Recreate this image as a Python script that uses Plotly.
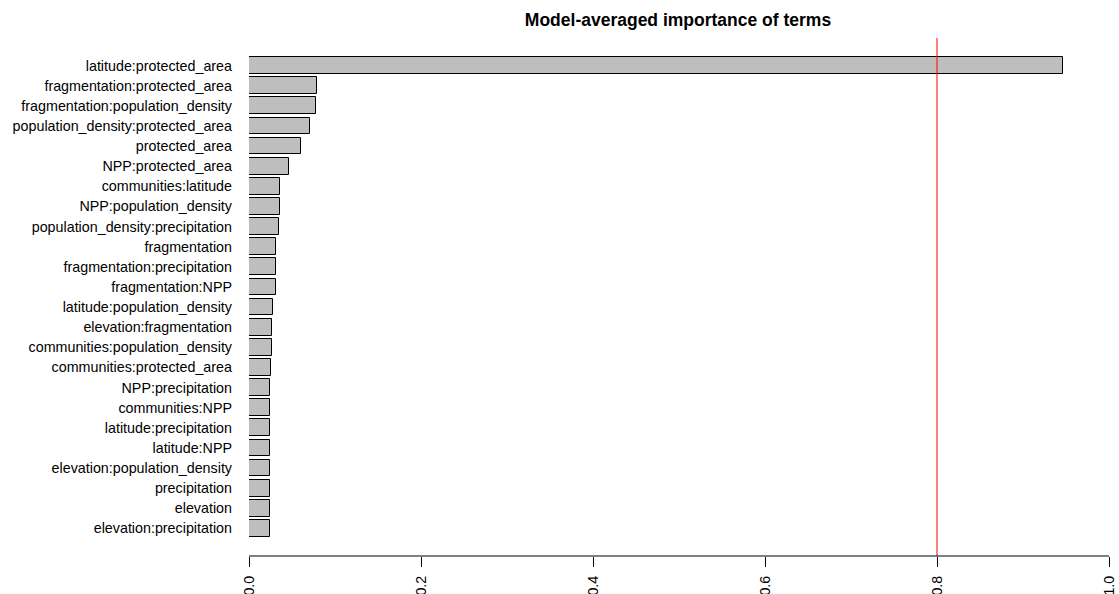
import plotly.graph_objects as go

terms = [
    "latitude:protected_area",
    "fragmentation:protected_area",
    "fragmentation:population_density",
    "population_density:protected_area",
    "protected_area",
    "NPP:protected_area",
    "communities:latitude",
    "NPP:population_density",
    "population_density:precipitation",
    "fragmentation",
    "fragmentation:precipitation",
    "fragmentation:NPP",
    "latitude:population_density",
    "elevation:fragmentation",
    "communities:population_density",
    "communities:protected_area",
    "NPP:precipitation",
    "communities:NPP",
    "latitude:precipitation",
    "latitude:NPP",
    "elevation:population_density",
    "precipitation",
    "elevation",
    "elevation:precipitation",
]
importance = [
    0.947, 0.079, 0.078, 0.0714, 0.0605, 0.047, 0.036, 0.036, 0.035,
    0.0318, 0.0318, 0.0318, 0.028, 0.0267, 0.0267, 0.0256,
    0.0248, 0.0248, 0.0248, 0.0248, 0.0248, 0.0248, 0.0248, 0.0248,
]
x_ticks = [0.0, 0.2, 0.4, 0.6, 0.8, 1.0]
x_tick_text = ["0.0", "0.2", "0.4", "0.6", "0.8", "1.0"]
threshold = 0.8
title_text = "Model-averaged importance of terms"

W, H = 1119, 594
ML, MR, MT, MB = 249, 0, 38, 38
px_per_unit = 860.0
n = len(terms)
pad = 1.37
idx = list(range(n))

font_family = "Liberation Sans, Arial, sans-serif"

fig = go.Figure()
fig.add_trace(go.Bar(
    x=importance,
    y=idx,
    orientation="h",
    width=0.833,
    marker=dict(color="#BEBEBE", line=dict(color="#000000", width=1)),
    hoverinfo="x+text",
    text=terms,
    textposition="none",
))

fig.add_shape(type="line", xref="x", yref="paper",
              x0=threshold, x1=threshold, y0=0, y1=1,
              line=dict(color="#FF0000", width=1))
fig.add_shape(type="line", xref="x", yref="paper",
              x0=min(x_ticks), x1=max(x_ticks), y0=0, y1=0,
              line=dict(color="#000000", width=1))

fig.update_layout(
    width=W, height=H,
    margin=dict(l=ML, r=MR, t=MT, b=MB, pad=0),
    plot_bgcolor="white", paper_bgcolor="white",
    showlegend=False,
    font=dict(family=font_family, size=14.3, color="#000000"),
    title=dict(text="<b>" + title_text + "</b>",
               font=dict(family=font_family, size=17.5, color="#000000"),
               x=678 / W, xref="container", xanchor="center",
               y=1 - 20 / H, yref="container", yanchor="middle"),
    xaxis=dict(
        range=[0, (W - ML - MR) / px_per_unit],
        tickvals=x_ticks, ticktext=x_tick_text,
        tickangle=-90,
        ticks="outside", ticklen=10, tickcolor="#000000", tickwidth=1,
        showgrid=False, zeroline=False, showline=False,
        automargin=False,
        ticklabelstandoff=3,
    ),
    yaxis=dict(
        range=[n - 1 + pad, -pad],
        tickvals=idx, ticktext=terms,
        ticks="", showgrid=False, zeroline=False, showline=False,
        automargin=False,
        ticklabelstandoff=16,
    ),
    bargap=0,
)

fig.write_html(
    "out.html",
    config={"displayModeBar": False},
    post_script="document.body.style.margin='0';document.body.style.overflow='hidden';",
)
